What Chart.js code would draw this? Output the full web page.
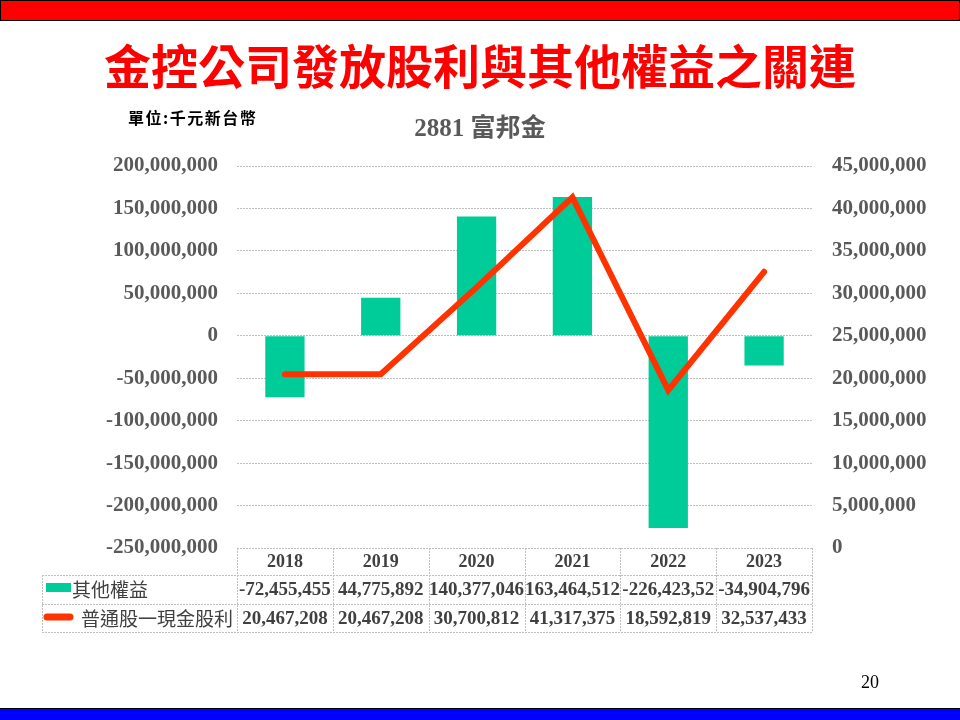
<!DOCTYPE html>
<html>
<head>
<meta charset="utf-8">
<script src="https://cdn.jsdelivr.net/npm/chart.js@4.4.1/dist/chart.umd.min.js"></script>
<style>
	body { margin: 0; background: #fff; }
	#page { position: relative; width: 960px; height: 720px; overflow: hidden; background: #fff; }
	#chart { position: absolute; left: 0; top: 0; }
	.topbar { position: absolute; left: 0; top: 0; width: 958px; height: 19px; background: #FF0000; border: 1px solid #000; }
	.bottombar { position: absolute; left: 0; top: 708px; width: 960px; height: 12px; background: #0000FF; border-top: 1px solid #000; }
	.title { position: absolute; left: 0; top: 34px; width: 960px; text-align: center; line-height: 60px;
		font-family: 'Noto Sans CJK TC', sans-serif; font-weight: bold; font-size: 47px; color: #FF0000; }
	.unit { position: absolute; left: 128px; top: 105px; line-height: 24px; font-family: 'Noto Sans CJK TC', sans-serif;
		font-weight: bold; font-size: 16px; letter-spacing: 1.5px; color: #000; }
	.pagenum { position: absolute; left: 861px; top: 670px; line-height: 24px; font-family: 'Times New Roman', 'Liberation Serif', serif;
		font-size: 18px; color: #000; }
</style>
</head>
<body>
<div id="page">
	<canvas id="chart" width="960" height="720"></canvas>
	<div class="topbar"></div>
	<div class="title">金控公司發放股利與其他權益之關連</div>
	<div class="unit">單位:千元新台幣</div>
	<div class="pagenum">20</div>
	<div class="bottombar"></div>
</div>
<script>
// data (thousand NTD)
const years = ['2018', '2019', '2020', '2021', '2022', '2023']
const otherEquity = [-72455455, 44775892, 140377046, 163464512, -226423520, -34904796]
const cashDividend = [20467208, 20467208, 30700812, 41317375, 18592819, 32537433]
const equityLabel = '其他權益'
const dividendLabel = '普通股一現金股利'
const chartTitle = '2881 富邦金'

const serif = "'Times New Roman', 'Liberation Serif', serif"
const cjk = "'Noto Sans CJK TC', sans-serif"
const barColor = '#00CC99'
const lineColor = '#FF3300'
const gridColor = '#BFBFBF'

function fmt(v) {
	return Number(v).toLocaleString('en-US')
}

// cut trailing characters that don't fit the cell (PowerPoint wraps them away)
function fitText(ctx, text, width) {
	let t = text
	while (t.length > 1 && ctx.measureText(t).width > width) {
		t = t.slice(0, -1)
	}
	return t
}

// data table under the plot, legend keys go in the first column
const dataTable = {
	id: 'dataTable',
	afterDraw(chart) {
		const ctx = chart.ctx
		const area = chart.chartArea
		const xScale = chart.scales.x
		const colW = (area.right - area.left) / years.length
		const top = area.bottom
		const headH = 27
		const rowH = 28.5
		const tableLeft = 42
		const r1 = top + headH
		const r2 = r1 + rowH
		const r3 = r2 + rowH

		ctx.save()
		ctx.strokeStyle = gridColor
		ctx.lineWidth = 1
		ctx.setLineDash([2, 1])
		ctx.beginPath()
		ctx.moveTo(area.left, top + 0.5)
		ctx.lineTo(area.right, top + 0.5)
		for (const y of [r1, r2, r3]) {
			ctx.moveTo(tableLeft, Math.round(y) + 0.5)
			ctx.lineTo(area.right, Math.round(y) + 0.5)
		}
		ctx.moveTo(tableLeft + 0.5, r1)
		ctx.lineTo(tableLeft + 0.5, r3)
		for (let k = 0; k <= years.length; k++) {
			const x = Math.round(area.left + k * colW) + 0.5
			ctx.moveTo(x, top)
			ctx.lineTo(x, r3)
		}
		ctx.stroke()
		ctx.setLineDash([])

		// header years
		ctx.fillStyle = '#404040'
		ctx.textAlign = 'center'
		ctx.textBaseline = 'middle'
		ctx.font = 'bold 18px ' + serif
		years.forEach((y, i) => {
			ctx.fillText(y, xScale.getPixelForValue(i), top + headH / 2 + 1)
		})

		// values
		ctx.font = 'bold 19px ' + serif
		const rows = [[otherEquity, r1], [cashDividend, r2]]
		for (const [vals, ry] of rows) {
			vals.forEach((v, i) => {
				const t = fitText(ctx, fmt(v), colW + 3)
				ctx.fillText(t, xScale.getPixelForValue(i), ry + rowH / 2 + 1)
			})
		}

		// legend keys and series names
		const bar = chart.data.datasets[0]
		const line = chart.data.datasets[1]
		ctx.fillStyle = bar.backgroundColor
		ctx.fillRect(46, r1 + 8, 25, 9)
		ctx.strokeStyle = line.borderColor
		ctx.lineWidth = 7
		ctx.lineCap = 'round'
		ctx.beginPath()
		ctx.moveTo(47, r2 + 13.5)
		ctx.lineTo(70, r2 + 13.5)
		ctx.stroke()

		ctx.fillStyle = '#404040'
		ctx.textAlign = 'left'
		ctx.font = '19px ' + cjk
		ctx.fillText(bar.label, 72, r1 + rowH / 2 + 1)
		ctx.fillText(line.label, 81, r2 + rowH / 2 + 1)
		ctx.restore()
	}
}

const chartData = {
	labels: years,
	datasets: [
		{
			type: 'bar',
			label: equityLabel,
			data: otherEquity,
			backgroundColor: barColor,
			yAxisID: 'y',
			barPercentage: 0.41,
			categoryPercentage: 1,
			order: 1
		},
		{
			type: 'line',
			label: dividendLabel,
			data: cashDividend,
			borderColor: lineColor,
			borderWidth: 6,
			borderCapStyle: 'round',
			borderJoinStyle: 'miter',
			pointRadius: 0,
			tension: 0,
			fill: false,
			yAxisID: 'y1',
			order: 0
		}
	]
}

const config = {
	type: 'bar',
	data: chartData,
	plugins: [dataTable],
	options: {
		responsive: false,
		animation: false,
		devicePixelRatio: 1,
		layout: { padding: { left: 0, right: 0, top: 0, bottom: 172 } },
		plugins: {
			legend: { display: false },
			tooltip: { enabled: false },
			title: {
				display: true,
				text: chartTitle,
				color: '#595959',
				font: { family: serif + ", 'Noto Sans CJK TC'", size: 25, weight: 'bold', lineHeight: 1.2 },
				padding: { top: 115, bottom: 21 }
			}
		},
		scales: {
			x: {
				display: false,
				offset: true
			},
			y: {
				position: 'left',
				min: -250000000,
				max: 200000000,
				ticks: {
					stepSize: 50000000,
					color: '#595959',
					font: { family: serif, size: 21, weight: 'bold' },
					padding: 19,
					callback: v => fmt(v)
				},
				grid: { color: gridColor, drawTicks: false },
				border: { display: false, dash: [2, 1] },
				afterFit(scale) { scale.width = 237 }
			},
			y1: {
				position: 'right',
				min: 0,
				max: 45000000,
				ticks: {
					stepSize: 5000000,
					color: '#595959',
					font: { family: serif, size: 21, weight: 'bold' },
					padding: 20,
					callback: v => fmt(v)
				},
				grid: { display: false, drawTicks: false },
				border: { display: false },
				afterFit(scale) { scale.width = 148 }
			}
		}
	}
}

new Chart(document.querySelector('#chart'), config)
</script>
</body>
</html>
